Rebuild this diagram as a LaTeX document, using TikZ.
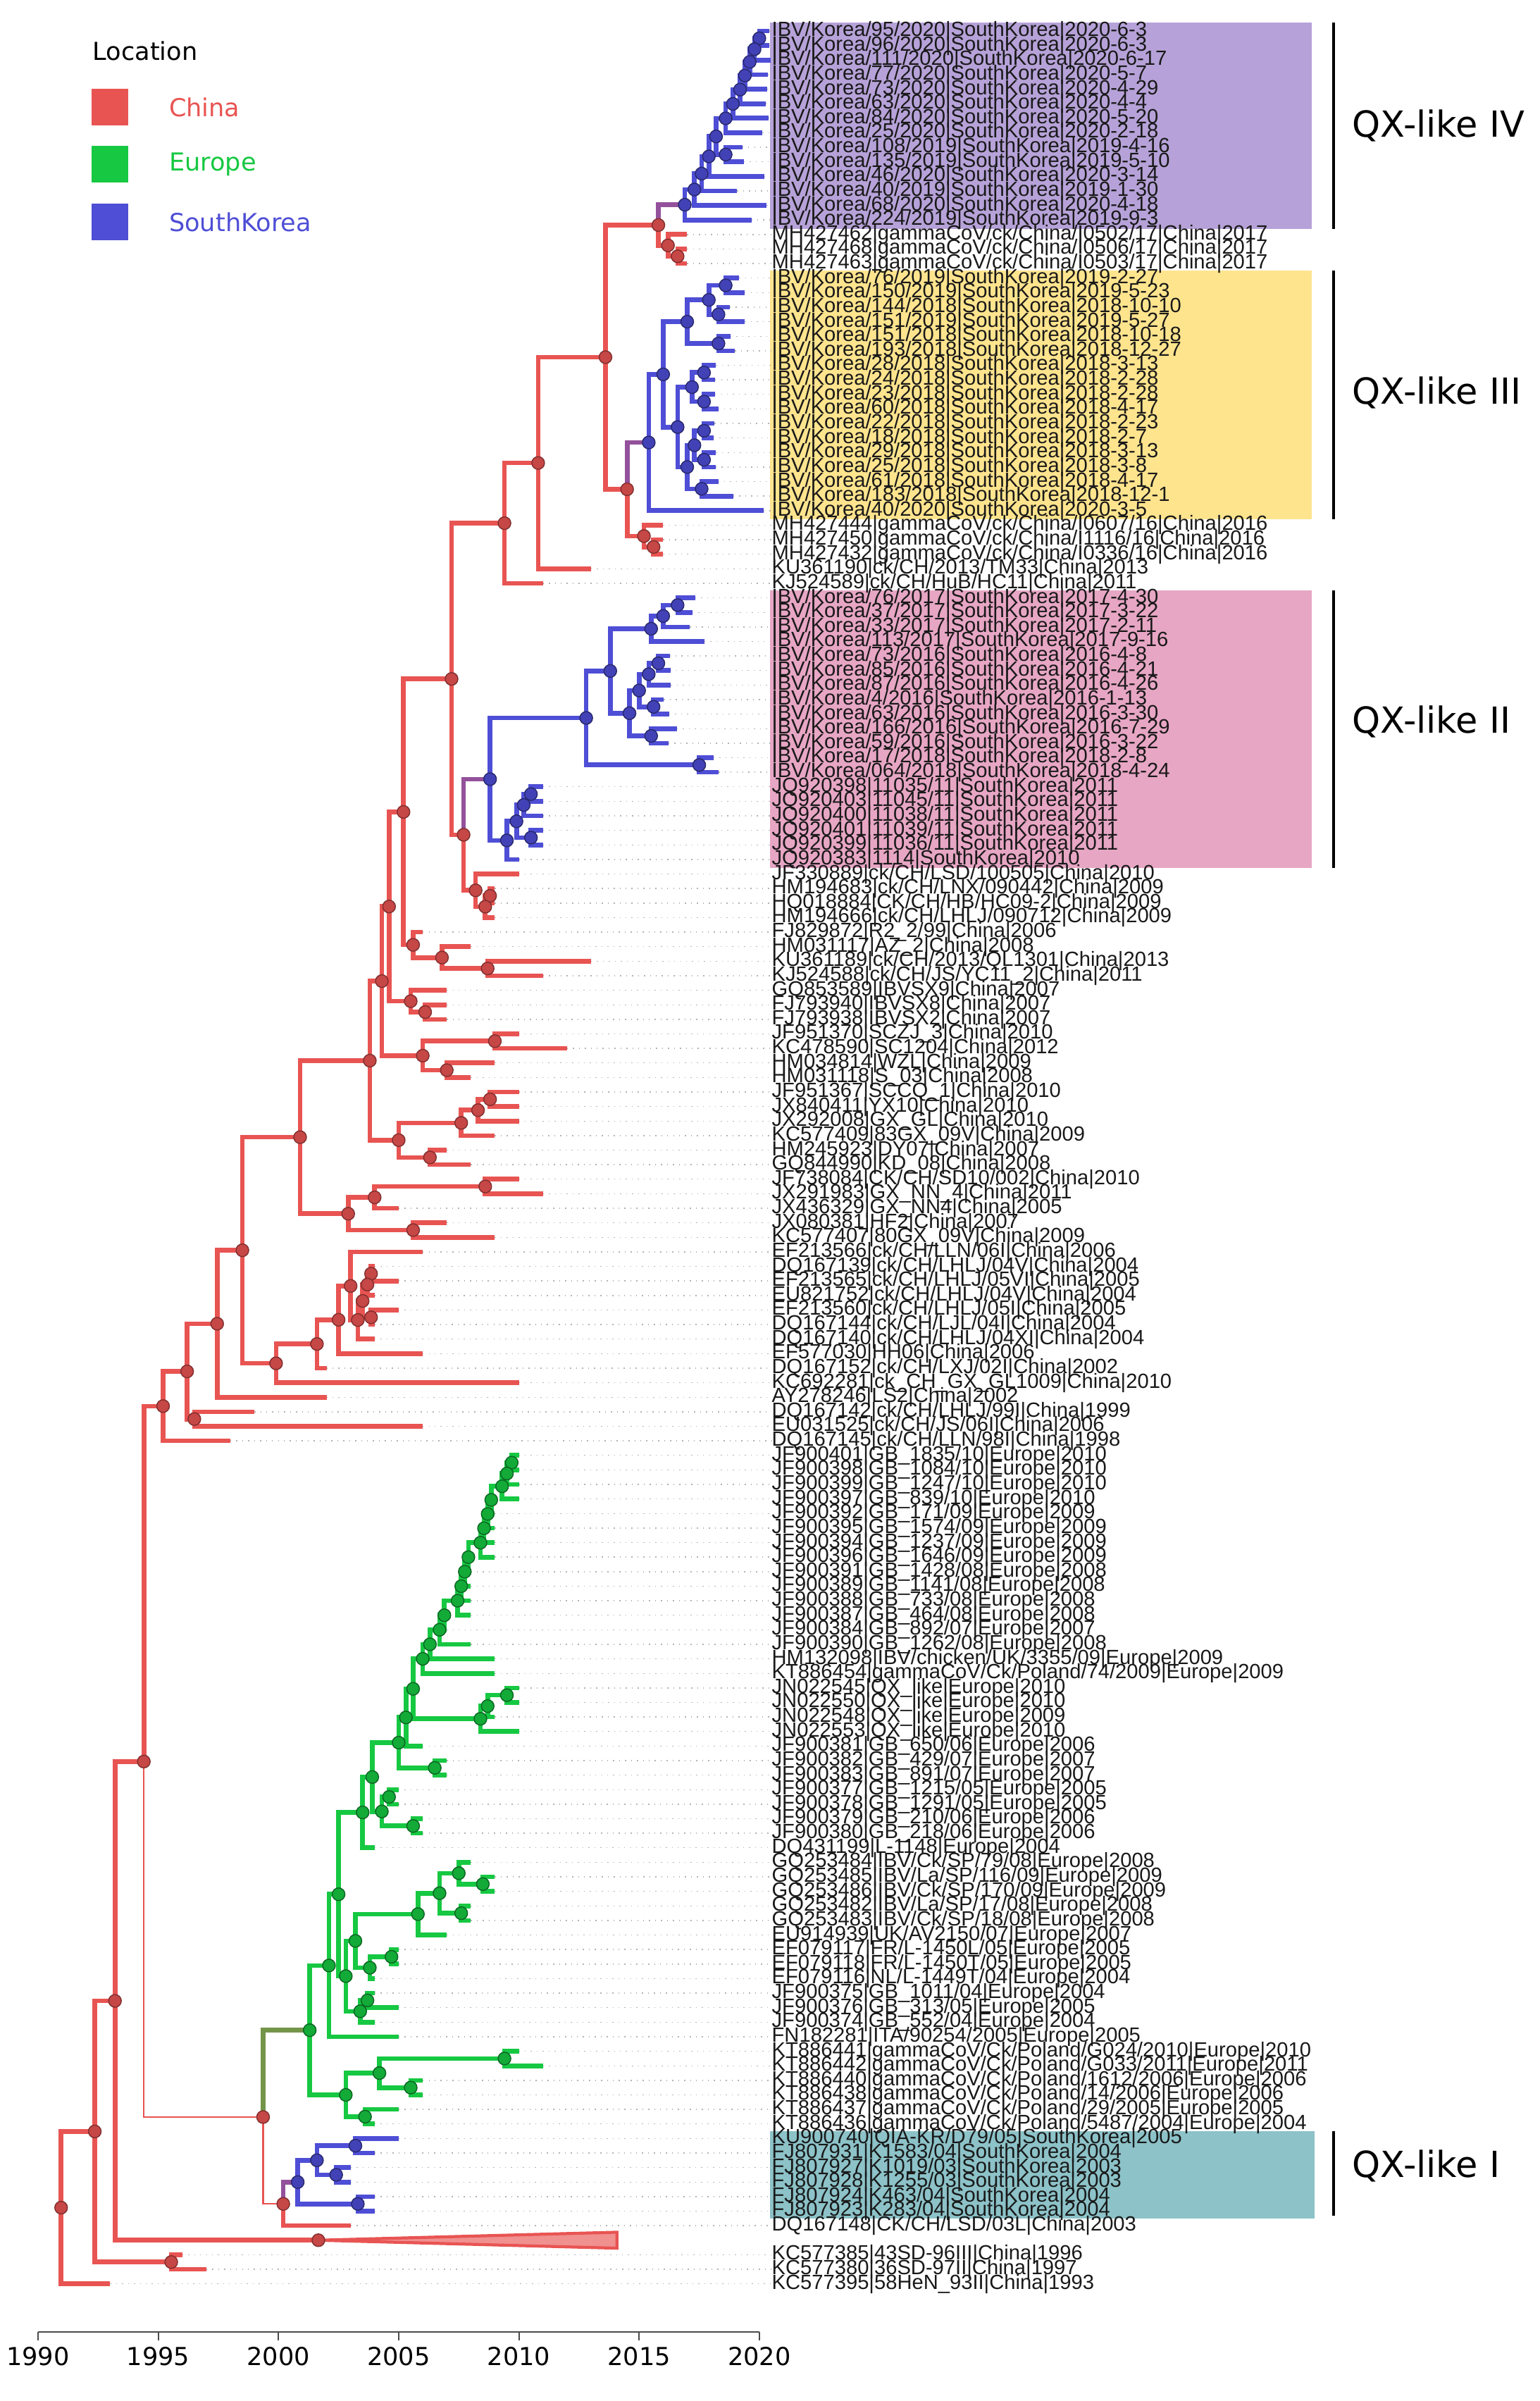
\documentclass[tikz,border=0pt]{standalone}
\usepackage{fontspec}
\setmainfont{DejaVu Sans}
\newfontfamily\tipfamily{Liberation Sans}
\usetikzlibrary{positioning, calc}
\pgfdeclarelayer{front}
\pgfsetlayers{main,front}
\definecolor{chinared}{RGB}{232,84,82}
\definecolor{eurogreen}{RGB}{22,200,66}
\definecolor{koreablue}{RGB}{78,78,214}
\definecolor{boxpurple}{RGB}{182,162,216}
\definecolor{boxyellow}{RGB}{255,228,142}
\definecolor{boxpink}{RGB}{231,166,196}
\definecolor{boxteal}{RGB}{140,194,200}
\newcommand\tipfont{\tipfamily\fontsize{8.3}{8.3}\selectfont}
\tikzset{
  tiplabel/.style={anchor=west, inner sep=0pt, font=\tipfont, text=black!90},
  guide/.style={gray!60, line width=0.4pt, dotted},
  chn/.style={draw=chinared, line width=1.9pt},
  eur/.style={draw=eurogreen, line width=1.9pt},
  kor/.style={draw=koreablue, line width=1.9pt},
  mixkr/.style={draw=koreablue!55!chinared, line width=1.9pt},
  mixer/.style={draw=eurogreen!55!chinared, line width=1.9pt},
  thinbr/.style={draw=chinared, line width=0.6pt},
  chndot/.style={circle, fill=chinared!85!black, draw=chinared!55!black, line width=0.4pt, minimum size=0.18cm, inner sep=0pt},
  eurdot/.style={chndot, fill=eurogreen!85!black, draw=eurogreen!50!black},
  kordot/.style={chndot, fill=koreablue!85!black, draw=koreablue!50!black},
  legbox/.style={minimum size=0.52cm, inner sep=0pt},
  legtext/.style={anchor=west, font=\fontsize{10}{12}\selectfont},
  qxlabel/.style={anchor=west, font=\fontsize{14.5}{16}\selectfont},
  bracket/.style={line width=1.3pt, black}
}
% one leaf: row, time since 1990, label
\newcommand\tip[3]{%
  \coordinate (t#1) at (#2,#1);
  \node[tiplabel] (l#1) at (30.5,#1) {#3};
  \draw[guide] (t#1) -- (l#1.west);
}
% one split: name, time, upper child, lower child, dot colour, branch styles
\newcommand\jn[7]{%
  \coordinate (#1) at ($(#3)!0.5!(#4)$);
  \coordinate (#1) at (#2,0 |- #1);
  \draw[#6] (#1) |- (#3);
  \draw[#7] (#1) |- (#4);
  \begin{pgfonlayer}{front}\node[#5dot] (d#1) at (#1) {};\end{pgfonlayer}
}

\begin{document}
\begin{tikzpicture}
\useasboundingbox (0,0) rectangle (21.86,-34.08);

% legend
\node[font=\fontsize{10}{12}\selectfont] (loc) at (2.06,-0.72) {Location};
\node[legbox, fill=chinared] (sqc) at (1.56,-1.52) {};
\node[legbox, fill=eurogreen] (sqe) at (1.56,-2.33) {};
\node[legbox, fill=koreablue] (sqk) at (1.56,-3.15) {};
\node[legtext, text=chinared, right=0.45cm of sqc] (txc) {China};
\node[legtext, text=eurogreen, right=0.45cm of sqe] (txe) {Europe};
\node[legtext, text=koreablue, right=0.45cm of sqk] (txk) {SouthKorea};

\begin{scope}[shift={(0.54cm,-0.2337cm)}, x=0.3413cm, y=-0.2063cm]
% clade boxes
\fill[boxpurple] (30.44,0.4) rectangle (52.97,14.6);
\fill[boxyellow] (30.44,17.5) rectangle (52.97,34.6);
\fill[boxpink] (30.44,39.5) rectangle (52.97,58.6);
\fill[boxteal] (30.44,145.5) rectangle (53.1,151.5);
\draw[bracket] (53.88,0.4) -- (53.88,14.6);
\draw[bracket] (53.88,17.5) -- (53.88,34.6);
\draw[bracket] (53.88,39.5) -- (53.88,58.6);
\draw[bracket] (53.88,145.5) -- (53.88,151.3);
\node[qxlabel] (qx4) at (54.3,7.5) {QX-like IV};
\node[qxlabel] (qx3) at (54.3,25.9) {QX-like III};
\node[qxlabel] (qx2) at (54.3,48.5) {QX-like II};
\node[qxlabel] (qx1) at (54.3,147.9) {QX-like I};

% leaves
\tip{1}{30.42}{IBV/Korea/95/2020|SouthKorea|2020-6-3}
\tip{2}{30.42}{IBV/Korea/96/2020|SouthKorea|2020-6-3}
\tip{3}{30.46}{IBV/Korea/111/2020|SouthKorea|2020-6-17}
\tip{4}{30.35}{IBV/Korea/77/2020|SouthKorea|2020-5-7}
\tip{5}{30.33}{IBV/Korea/73/2020|SouthKorea|2020-4-29}
\tip{6}{30.26}{IBV/Korea/63/2020|SouthKorea|2020-4-4}
\tip{7}{30.38}{IBV/Korea/84/2020|SouthKorea|2020-5-20}
\tip{8}{30.13}{IBV/Korea/25/2020|SouthKorea|2020-2-18}
\tip{9}{29.29}{IBV/Korea/108/2019|SouthKorea|2019-4-16}
\tip{10}{29.36}{IBV/Korea/135/2019|SouthKorea|2019-5-10}
\tip{11}{30.2}{IBV/Korea/46/2020|SouthKorea|2020-3-14}
\tip{12}{29.08}{IBV/Korea/40/2019|SouthKorea|2019-1-30}
\tip{13}{30.3}{IBV/Korea/68/2020|SouthKorea|2020-4-18}
\tip{14}{29.67}{IBV/Korea/224/2019|SouthKorea|2019-9-3}
\tip{15}{27}{MH427462|gammaCoV/ck/China/I0502/17|China|2017}
\tip{16}{27}{MH427468|gammaCoV/ck/China/I0506/17|China|2017}
\tip{17}{27}{MH427463|gammaCoV/ck/China/I0503/17|China|2017}
\tip{18}{29.16}{IBV/Korea/76/2019|SouthKorea|2019-2-27}
\tip{19}{29.39}{IBV/Korea/150/2019|SouthKorea|2019-5-23}
\tip{20}{28.77}{IBV/Korea/144/2018|SouthKorea|2018-10-10}
\tip{21}{29.4}{IBV/Korea/151/2019|SouthKorea|2019-5-27}
\tip{22}{28.8}{IBV/Korea/151/2018|SouthKorea|2018-10-18}
\tip{23}{28.99}{IBV/Korea/193/2018|SouthKorea|2018-12-27}
\tip{24}{28.2}{IBV/Korea/28/2018|SouthKorea|2018-3-13}
\tip{25}{28.16}{IBV/Korea/24/2018|SouthKorea|2018-2-28}
\tip{26}{28.16}{IBV/Korea/23/2018|SouthKorea|2018-2-28}
\tip{27}{28.29}{IBV/Korea/60/2018|SouthKorea|2018-4-17}
\tip{28}{28.14}{IBV/Korea/22/2018|SouthKorea|2018-2-23}
\tip{29}{28.1}{IBV/Korea/18/2018|SouthKorea|2018-2-7}
\tip{30}{28.2}{IBV/Korea/29/2018|SouthKorea|2018-3-13}
\tip{31}{28.18}{IBV/Korea/25/2018|SouthKorea|2018-3-8}
\tip{32}{28.29}{IBV/Korea/61/2018|SouthKorea|2018-4-17}
\tip{33}{28.92}{IBV/Korea/183/2018|SouthKorea|2018-12-1}
\tip{34}{30.17}{IBV/Korea/40/2020|SouthKorea|2020-3-5}
\tip{35}{26}{MH427444|gammaCoV/ck/China/I0607/16|China|2016}
\tip{36}{26}{MH427450|gammaCoV/ck/China/I1116/16|China|2016}
\tip{37}{26}{MH427432|gammaCoV/ck/China/I0336/16|China|2016}
\tip{38}{23}{KU361190|ck/CH/2013/TM33|China|2013}
\tip{39}{21}{KJ524589|ck/CH/HuB/HC11|China|2011}
\tip{40}{27.33}{IBV/Korea/76/2017|SouthKorea|2017-4-30}
\tip{41}{27.22}{IBV/Korea/37/2017|SouthKorea|2017-3-22}
\tip{42}{27.11}{IBV/Korea/33/2017|SouthKorea|2017-2-11}
\tip{43}{27.71}{IBV/Korea/113/2017|SouthKorea|2017-9-16}
\tip{44}{26.27}{IBV/Korea/73/2016|SouthKorea|2016-4-8}
\tip{45}{26.3}{IBV/Korea/85/2016|SouthKorea|2016-4-21}
\tip{46}{26.32}{IBV/Korea/87/2016|SouthKorea|2016-4-26}
\tip{47}{26.03}{IBV/Korea/4/2016|SouthKorea|2016-1-13}
\tip{48}{26.25}{IBV/Korea/63/2016|SouthKorea|2016-3-30}
\tip{49}{26.57}{IBV/Korea/166/2016|SouthKorea|2016-7-29}
\tip{50}{26.22}{IBV/Korea/59/2016|SouthKorea|2016-3-22}
\tip{51}{28.1}{IBV/Korea/17/2018|SouthKorea|2018-2-8}
\tip{52}{28.31}{IBV/Korea/064/2018|SouthKorea|2018-4-24}
\tip{53}{21}{JQ920398|11035/11|SouthKorea|2011}
\tip{54}{21}{JQ920403|11045/11|SouthKorea|2011}
\tip{55}{21}{JQ920400|11038/11|SouthKorea|2011}
\tip{56}{21}{JQ920401|11039/11|SouthKorea|2011}
\tip{57}{21}{JQ920399|11036/11|SouthKorea|2011}
\tip{58}{20}{JQ920383|1114|SouthKorea|2010}
\tip{59}{20}{JF330889|ck/CH/LSD/100505|China|2010}
\tip{60}{19}{HM194683|ck/CH/LNX/090442|China|2009}
\tip{61}{19}{HQ018884|CK/CH/HB/HC09-2|China|2009}
\tip{62}{19}{HM194666|ck/CH/LHLJ/090712|China|2009}
\tip{63}{16}{FJ829872|R2\_2/99|China|2006}
\tip{64}{18}{HM031117|AZ\_2|China|2008}
\tip{65}{23}{KU361189|ck/CH/2013/QL1301|China|2013}
\tip{66}{21}{KJ524588|ck/CH/JS/YC11\_2|China|2011}
\tip{67}{17}{GQ853589|IBVSX9|China|2007}
\tip{68}{17}{FJ793940|IBVSX8|China|2007}
\tip{69}{17}{FJ793938|IBVSX2|China|2007}
\tip{70}{20}{JF951370|SCZJ\_3|China|2010}
\tip{71}{22}{KC478590|SC1204|China|2012}
\tip{72}{19}{HM034814|WZL|China|2009}
\tip{73}{18}{HM031118|S\_03|China|2008}
\tip{74}{20}{JF951367|SCCQ\_1|China|2010}
\tip{75}{20}{JX840411|YX10|China|2010}
\tip{76}{20}{JX292008|GX\_GL|China|2010}
\tip{77}{19}{KC577409|83GX\_09V|China|2009}
\tip{78}{17}{HM245923|DY07|China|2007}
\tip{79}{18}{GQ844990|KD\_08|China|2008}
\tip{80}{20}{JF738084|CK/CH/SD10/002|China|2010}
\tip{81}{21}{JX291983|GX\_NN\_4|China|2011}
\tip{82}{15}{JX436329|GX\_NN4|China|2005}
\tip{83}{17}{JX080381|HF2|China|2007}
\tip{84}{19}{KC577407|80GX\_09V|China|2009}
\tip{85}{16}{EF213566|ck/CH/LLN/06I|China|2006}
\tip{86}{14}{DQ167139|ck/CH/LHLJ/04V|China|2004}
\tip{87}{15}{EF213565|ck/CH/LHLJ/05VI|China|2005}
\tip{88}{14}{EU821752|ck/CH/LHLJ/04V|China|2004}
\tip{89}{15}{EF213560|ck/CH/LHLJ/05I|China|2005}
\tip{90}{14}{DQ167144|ck/CH/LJL/04I|China|2004}
\tip{91}{14}{DQ167140|ck/CH/LHLJ/04XI|China|2004}
\tip{92}{16}{EF577030|HH06|China|2006}
\tip{93}{12}{DQ167152|ck/CH/LXJ/02I|China|2002}
\tip{94}{20}{KC692281|ck\_CH\_GX\_GL1009|China|2010}
\tip{95}{12}{AY278246|LS2|China|2002}
\tip{96}{9}{DQ167142|ck/CH/LHLJ/99I|China|1999}
\tip{97}{16}{EU031525|ck/CH/JS/06I|China|2006}
\tip{98}{8}{DQ167145|ck/CH/LLN/98I|China|1998}
\tip{99}{20}{JF900401|GB\_1835/10|Europe|2010}
\tip{100}{20}{JF900398|GB\_1084/10|Europe|2010}
\tip{101}{20}{JF900399|GB\_1247/10|Europe|2010}
\tip{102}{20}{JF900397|GB\_839/10|Europe|2010}
\tip{103}{19}{JF900392|GB\_171/09|Europe|2009}
\tip{104}{19}{JF900395|GB\_1574/09|Europe|2009}
\tip{105}{19}{JF900394|GB\_1237/09|Europe|2009}
\tip{106}{19}{JF900396|GB\_1646/09|Europe|2009}
\tip{107}{18}{JF900391|GB\_1428/08|Europe|2008}
\tip{108}{18}{JF900389|GB\_1141/08|Europe|2008}
\tip{109}{18}{JF900388|GB\_733/08|Europe|2008}
\tip{110}{18}{JF900387|GB\_464/08|Europe|2008}
\tip{111}{17}{JF900384|GB\_892/07|Europe|2007}
\tip{112}{18}{JF900390|GB\_1262/08|Europe|2008}
\tip{113}{19}{HM132098|IBV/chicken/UK/3355/09|Europe|2009}
\tip{114}{19}{KT886454|gammaCoV/Ck/Poland/74/2009|Europe|2009}
\tip{115}{20}{JN022545|QX\_like|Europe|2010}
\tip{116}{20}{JN022550|QX\_like|Europe|2010}
\tip{117}{19}{JN022548|QX\_like|Europe|2009}
\tip{118}{20}{JN022553|QX\_like|Europe|2010}
\tip{119}{16}{JF900381|GB\_650/06|Europe|2006}
\tip{120}{17}{JF900382|GB\_429/07|Europe|2007}
\tip{121}{17}{JF900383|GB\_891/07|Europe|2007}
\tip{122}{15}{JF900377|GB\_1215/05|Europe|2005}
\tip{123}{15}{JF900378|GB\_1291/05|Europe|2005}
\tip{124}{16}{JF900379|GB\_210/06|Europe|2006}
\tip{125}{16}{JF900380|GB\_218/06|Europe|2006}
\tip{126}{14}{DQ431199|L-1148|Europe|2004}
\tip{127}{18}{GQ253484|IBV/Ck/SP/79/08|Europe|2008}
\tip{128}{19}{GQ253485|IBV/La/SP/116/09|Europe|2009}
\tip{129}{19}{GQ253486|IBV/Ck/SP/170/09|Europe|2009}
\tip{130}{18}{GQ253482|IBV/La/SP/17/08|Europe|2008}
\tip{131}{18}{GQ253483|IBV/Ck/SP/18/08|Europe|2008}
\tip{132}{17}{EU914939|UK/AV2150/07|Europe|2007}
\tip{133}{15}{EF079117|FR/L-1450L/05|Europe|2005}
\tip{134}{15}{EF079118|FR/L-1450T/05|Europe|2005}
\tip{135}{14}{EF079116|NL/L-1449T/04|Europe|2004}
\tip{136}{14}{JF900375|GB\_1011/04|Europe|2004}
\tip{137}{15}{JF900376|GB\_313/05|Europe|2005}
\tip{138}{14}{JF900374|GB\_552/04|Europe|2004}
\tip{139}{15}{FN182281|ITA/90254/2005|Europe|2005}
\tip{140}{20}{KT886441|gammaCoV/Ck/Poland/G024/2010|Europe|2010}
\tip{141}{21}{KT886442|gammaCoV/Ck/Poland/G033/2011|Europe|2011}
\tip{142}{16}{KT886440|gammaCoV/Ck/Poland/1612/2006|Europe|2006}
\tip{143}{16}{KT886438|gammaCoV/Ck/Poland/14/2006|Europe|2006}
\tip{144}{15}{KT886437|gammaCoV/Ck/Poland/29/2005|Europe|2005}
\tip{145}{14}{KT886436|gammaCoV/Ck/Poland/5487/2004|Europe|2004}
\tip{146}{15}{KU900740|QIA-KR/D79/05|SouthKorea|2005}
\tip{147}{14}{FJ807931|K1583/04|SouthKorea|2004}
\tip{148}{13}{FJ807927|K1019/03|SouthKorea|2003}
\tip{149}{13}{FJ807928|K1255/03|SouthKorea|2003}
\tip{150}{14}{FJ807924|K463/04|SouthKorea|2004}
\tip{151}{14}{FJ807923|K283/04|SouthKorea|2004}
\tip{152}{13}{DQ167148|CK/CH/LSD/03L|China|2003}
\tip{154}{6}{KC577385|43SD-96III|China|1996}
\tip{155}{7}{KC577380|36SD-97II|China|1997}
\tip{156}{3}{KC577395|58HeN\_93II|China|1993}

% QX-like IV
\jn{q1}{30.0}{t1}{t2}{kor}{kor}{kor}
\jn{q2}{29.8}{q1}{t3}{kor}{kor}{kor}
\jn{q3}{29.6}{q2}{t4}{kor}{kor}{kor}
\jn{q4}{29.4}{q3}{t5}{kor}{kor}{kor}
\jn{q5}{29.2}{q4}{t6}{kor}{kor}{kor}
\jn{q6}{28.9}{q5}{t7}{kor}{kor}{kor}
\jn{q7}{28.6}{q6}{t8}{kor}{kor}{kor}
\jn{q8}{28.6}{t9}{t10}{kor}{kor}{kor}
\jn{q9}{28.2}{q7}{q8}{kor}{kor}{kor}
\jn{q10}{27.9}{q9}{t11}{kor}{kor}{kor}
\jn{q11}{27.6}{q10}{t12}{kor}{kor}{kor}
\jn{q12}{27.3}{q11}{t13}{kor}{kor}{kor}
\jn{q13}{26.9}{q12}{t14}{kor}{kor}{kor}
\jn{mh1}{26.6}{t16}{t17}{chn}{chn}{chn}
\jn{mh2}{26.2}{t15}{mh1}{chn}{chn}{chn}
\jn{cn1}{25.8}{q13}{mh2}{chn}{mixkr}{chn}
% QX-like III
\jn{y1}{28.6}{t18}{t19}{kor}{kor}{kor}
\jn{y2}{28.3}{t20}{t21}{kor}{kor}{kor}
\jn{y3}{27.9}{y1}{y2}{kor}{kor}{kor}
\jn{y4}{28.3}{t22}{t23}{kor}{kor}{kor}
\jn{y5}{27.0}{y3}{y4}{kor}{kor}{kor}
\jn{y6}{27.7}{t24}{t25}{kor}{kor}{kor}
\jn{y7}{27.7}{t26}{t27}{kor}{kor}{kor}
\jn{y8}{27.2}{y6}{y7}{kor}{kor}{kor}
\jn{y9}{27.7}{t28}{t29}{kor}{kor}{kor}
\jn{y10}{27.7}{t30}{t31}{kor}{kor}{kor}
\jn{y11}{27.3}{y9}{y10}{kor}{kor}{kor}
\jn{y12}{27.6}{t32}{t33}{kor}{kor}{kor}
\jn{y13}{27.0}{y11}{y12}{kor}{kor}{kor}
\jn{y14}{26.6}{y8}{y13}{kor}{kor}{kor}
\jn{y15}{26.0}{y5}{y14}{kor}{kor}{kor}
\jn{y16}{25.4}{y15}{t34}{kor}{kor}{kor}
\jn{m1}{25.6}{t36}{t37}{chn}{chn}{chn}
\jn{m2}{25.2}{t35}{m1}{chn}{chn}{chn}
\jn{cn2}{24.5}{y16}{m2}{chn}{mixkr}{chn}
\jn{cn3}{23.6}{cn1}{cn2}{chn}{chn}{chn}
\jn{cn4}{20.8}{cn3}{t38}{chn}{chn}{chn}
\jn{cn5}{19.4}{cn4}{t39}{chn}{chn}{chn}
% QX-like II
\jn{a1}{26.6}{t40}{t41}{kor}{kor}{kor}
\jn{a2}{26.0}{a1}{t42}{kor}{kor}{kor}
\jn{a3}{25.5}{a2}{t43}{kor}{kor}{kor}
\jn{a4}{25.8}{t44}{t45}{kor}{kor}{kor}
\jn{a5}{25.4}{a4}{t46}{kor}{kor}{kor}
\jn{a6}{25.6}{t47}{t48}{kor}{kor}{kor}
\jn{a7}{25.0}{a5}{a6}{kor}{kor}{kor}
\jn{a8}{25.5}{t49}{t50}{kor}{kor}{kor}
\jn{a9}{24.6}{a7}{a8}{kor}{kor}{kor}
\jn{a10}{23.8}{a3}{a9}{kor}{kor}{kor}
\jn{a11}{27.5}{t51}{t52}{kor}{kor}{kor}
\jn{a12}{22.8}{a10}{a11}{kor}{kor}{kor}
\jn{b1}{20.5}{t53}{t54}{kor}{kor}{kor}
\jn{b2}{20.2}{b1}{t55}{kor}{kor}{kor}
\jn{b3}{20.5}{t56}{t57}{kor}{kor}{kor}
\jn{b4}{19.9}{b2}{b3}{kor}{kor}{kor}
\jn{b5}{19.5}{b4}{t58}{kor}{kor}{kor}
\jn{qr}{18.8}{a12}{b5}{kor}{kor}{kor}
\jn{c1}{18.8}{t60}{t61}{chn}{chn}{chn}
\jn{c2}{18.6}{c1}{t62}{chn}{chn}{chn}
\jn{c3}{18.2}{t59}{c2}{chn}{chn}{chn}
\jn{cp}{17.7}{qr}{c3}{chn}{mixkr}{chn}
\jn{cn6}{17.2}{cn5}{cp}{chn}{chn}{chn}
% China ladder
\jn{d1}{18.7}{t65}{t66}{chn}{chn}{chn}
\jn{d2}{16.8}{t64}{d1}{chn}{chn}{chn}
\jn{d3}{15.6}{t63}{d2}{chn}{chn}{chn}
\jn{cn7}{15.2}{cn6}{d3}{chn}{chn}{chn}
\jn{x1}{16.1}{t68}{t69}{chn}{chn}{chn}
\jn{x2}{15.5}{t67}{x1}{chn}{chn}{chn}
\jn{cn8}{14.6}{cn7}{x2}{chn}{chn}{chn}
\jn{f1}{19.0}{t70}{t71}{chn}{chn}{chn}
\jn{f2}{17.0}{t72}{t73}{chn}{chn}{chn}
\jn{f3}{16.0}{f1}{f2}{chn}{chn}{chn}
\jn{cn9}{14.3}{cn8}{f3}{chn}{chn}{chn}
\jn{g1}{18.8}{t74}{t75}{chn}{chn}{chn}
\jn{g2}{18.3}{g1}{t76}{chn}{chn}{chn}
\jn{g3}{17.6}{g2}{t77}{chn}{chn}{chn}
\jn{g4}{16.3}{t78}{t79}{chn}{chn}{chn}
\jn{g5}{15.0}{g3}{g4}{chn}{chn}{chn}
\jn{cn10}{13.8}{cn9}{g5}{chn}{chn}{chn}
\jn{g6}{18.6}{t80}{t81}{chn}{chn}{chn}
\jn{g7}{14.0}{g6}{t82}{chn}{chn}{chn}
\jn{g8}{15.6}{t83}{t84}{chn}{chn}{chn}
\jn{g9}{12.9}{g7}{g8}{chn}{chn}{chn}
\jn{cn11}{10.9}{cn10}{g9}{chn}{chn}{chn}
\jn{h1}{13.85}{t86}{t87}{chn}{chn}{chn}
\jn{h2}{13.7}{h1}{t88}{chn}{chn}{chn}
\jn{h3}{13.85}{t89}{t90}{chn}{chn}{chn}
\jn{h4}{13.5}{h2}{h3}{chn}{chn}{chn}
\jn{h5}{13.3}{h4}{t91}{chn}{chn}{chn}
\jn{h6}{13.0}{t85}{h5}{chn}{chn}{chn}
\jn{h7}{12.5}{h6}{t92}{chn}{chn}{chn}
\jn{h8}{11.6}{h7}{t93}{chn}{chn}{chn}
\jn{hl}{9.9}{h8}{t94}{chn}{chn}{chn}
\jn{cn12}{8.5}{cn11}{hl}{chn}{chn}{chn}
\jn{cn13}{7.45}{cn12}{t95}{chn}{chn}{chn}
\jn{cs}{6.5}{t96}{t97}{chn}{chn}{chn}
\jn{cn14}{6.2}{cn13}{cs}{chn}{chn}{chn}
\jn{cn15}{5.2}{cn14}{t98}{chn}{chn}{chn}
% Europe
\jn{e1}{19.7}{t99}{t100}{eur}{eur}{eur}
\jn{e2}{19.5}{e1}{t101}{eur}{eur}{eur}
\jn{e3}{19.3}{e2}{t102}{eur}{eur}{eur}
\jn{e4}{18.85}{e3}{t103}{eur}{eur}{eur}
\jn{e5}{18.7}{e4}{t104}{eur}{eur}{eur}
\jn{e6}{18.55}{e5}{t105}{eur}{eur}{eur}
\jn{e7}{18.4}{e6}{t106}{eur}{eur}{eur}
\jn{e8}{17.9}{e7}{t107}{eur}{eur}{eur}
\jn{e9}{17.75}{e8}{t108}{eur}{eur}{eur}
\jn{e10}{17.6}{e9}{t109}{eur}{eur}{eur}
\jn{e11}{17.45}{e10}{t110}{eur}{eur}{eur}
\jn{e12}{16.9}{e11}{t111}{eur}{eur}{eur}
\jn{e13}{16.7}{e12}{t112}{eur}{eur}{eur}
\jn{e14}{16.3}{e13}{t113}{eur}{eur}{eur}
\jn{e15}{16.0}{e14}{t114}{eur}{eur}{eur}
\jn{j1}{19.5}{t115}{t116}{eur}{eur}{eur}
\jn{j2}{18.7}{j1}{t117}{eur}{eur}{eur}
\jn{j3}{18.4}{j2}{t118}{eur}{eur}{eur}
\jn{e16}{15.6}{e15}{j3}{eur}{eur}{eur}
\jn{e17}{15.3}{e16}{t119}{eur}{eur}{eur}
\jn{e18}{16.5}{t120}{t121}{eur}{eur}{eur}
\jn{e19}{15.0}{e17}{e18}{eur}{eur}{eur}
\jn{e20}{14.6}{t122}{t123}{eur}{eur}{eur}
\jn{e21}{15.6}{t124}{t125}{eur}{eur}{eur}
\jn{e22}{14.3}{e20}{e21}{eur}{eur}{eur}
\jn{e23}{13.9}{e19}{e22}{eur}{eur}{eur}
\jn{e24}{13.5}{e23}{t126}{eur}{eur}{eur}
\jn{s1}{18.5}{t128}{t129}{eur}{eur}{eur}
\jn{s2}{17.5}{t127}{s1}{eur}{eur}{eur}
\jn{s3}{17.6}{t130}{t131}{eur}{eur}{eur}
\jn{s4}{16.7}{s2}{s3}{eur}{eur}{eur}
\jn{s5}{15.8}{s4}{t132}{eur}{eur}{eur}
\jn{r1}{14.7}{t133}{t134}{eur}{eur}{eur}
\jn{r2}{13.8}{r1}{t135}{eur}{eur}{eur}
\jn{s6}{13.2}{s5}{r2}{eur}{eur}{eur}
\jn{w1}{13.7}{t136}{t137}{eur}{eur}{eur}
\jn{w2}{13.4}{w1}{t138}{eur}{eur}{eur}
\jn{s7}{12.8}{s6}{w2}{eur}{eur}{eur}
\jn{e25}{12.5}{e24}{s7}{eur}{eur}{eur}
\jn{e26}{12.1}{e25}{t139}{eur}{eur}{eur}
\jn{p1}{19.4}{t140}{t141}{eur}{eur}{eur}
\jn{p2}{15.5}{t142}{t143}{eur}{eur}{eur}
\jn{p3}{14.2}{p1}{p2}{eur}{eur}{eur}
\jn{p4}{13.6}{t144}{t145}{eur}{eur}{eur}
\jn{p5}{12.8}{p3}{p4}{eur}{eur}{eur}
\jn{eu}{11.3}{e26}{p5}{eur}{eur}{eur}
% QX-like I
\jn{k1}{13.2}{t146}{t147}{kor}{kor}{kor}
\jn{k2}{12.4}{t148}{t149}{kor}{kor}{kor}
\jn{k3}{11.6}{k1}{k2}{kor}{kor}{kor}
\jn{k4}{13.3}{t150}{t151}{kor}{kor}{kor}
\jn{k5}{10.8}{k3}{k4}{kor}{kor}{kor}
\jn{kq}{10.2}{k5}{t152}{chn}{mixkr}{chn}
\jn{ce}{9.36}{eu}{kq}{chn}{mixer}{thinbr}
% root part
\coordinate (tri) at (11.66,153);
\coordinate (tria) at (24.08,152.45);
\coordinate (trib) at (24.08,153.55);
\fill[chinared!65, draw=chinared, line width=1.2pt] (tri) -- (tria) -- (trib) -- cycle;
\jn{cc}{4.4}{cn15}{ce}{chn}{chn}{thinbr}
\jn{cb}{3.2}{cc}{tri}{chn}{chn}{chn}
\jn{c95}{5.54}{t154}{t155}{chn}{chn}{chn}
\jn{ca}{2.36}{cb}{c95}{chn}{chn}{chn}
\jn{root}{0.96}{ca}{t156}{chn}{chn}{chn}
\begin{pgfonlayer}{front}\node[chndot] (dtri) at (tri) {};\end{pgfonlayer}

% time axis
\draw[black!70, line width=0.6pt] (0,159.3) -- (30,159.3);
\foreach \y in {0,5,...,30}{
  \draw[black!70, line width=0.6pt] (\y,159.3) -- (\y,159.9);
  \node[font=\fontsize{10}{12}\selectfont] (ax\y) at (\y,161) {\the\numexpr1990+\y\relax};
}
\end{scope}
\end{tikzpicture}
\end{document}
